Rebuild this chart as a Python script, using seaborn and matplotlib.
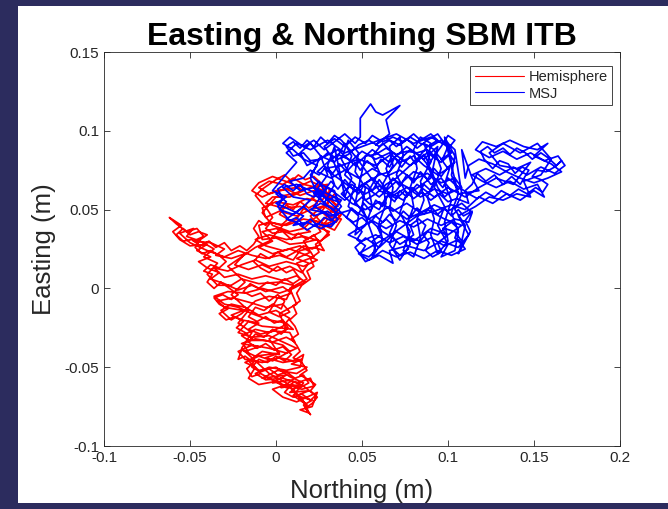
import seaborn as sns
import matplotlib.pyplot as plt
import pandas as pd
from matplotlib.patches import Rectangle

# Track points as (northing, easting) in metres
hemi_up = [
    (0.020, -0.080), (0.016, -0.074), (0.021, -0.071), (0.012, -0.068), (0.019, -0.065), (0.008, -0.066),
    (0.014, -0.061), (0.003, -0.063), (0.010, -0.058), (-0.002, -0.060), (0.006, -0.055), (-0.008, -0.057),
    (0.001, -0.052), (0.012, -0.054), (0.018, -0.050), (0.009, -0.048), (0.015, -0.045), (0.004, -0.047),
    (-0.006, -0.044), (0.002, -0.041), (-0.012, -0.043), (-0.018, -0.040), (-0.010, -0.037), (-0.020, -0.035),
    (-0.012, -0.032), (-0.002, -0.034), (0.006, -0.031), (0.011, -0.034), (0.008, -0.028), (-0.001, -0.027),
    (-0.009, -0.029), (-0.016, -0.026), (-0.010, -0.022), (-0.020, -0.020), (-0.026, -0.017), (-0.019, -0.014),
    (-0.030, -0.012), (-0.034, -0.008), (-0.025, -0.006), (-0.015, -0.009), (-0.006, -0.012), (0.004, -0.010),
    (0.008, -0.015), (0.002, -0.018), (-0.004, -0.015), (0.001, -0.006), (0.009, -0.003), (0.004, 0.001),
    (-0.006, -0.002), (-0.014, 0.002), (-0.022, -0.001), (-0.030, 0.003), (-0.038, 0.006), (-0.033, 0.010),
    (-0.040, 0.013), (-0.045, 0.017), (-0.038, 0.020), (-0.046, 0.024), (-0.040, 0.028), (-0.050, 0.027),
    (-0.056, 0.031), (-0.060, 0.036), (-0.055, 0.040), (-0.062, 0.045), (-0.058, 0.041), (-0.052, 0.036),
    (-0.046, 0.038), (-0.042, 0.033), (-0.048, 0.030), (-0.038, 0.029), (-0.030, 0.025), (-0.035, 0.021),
    (-0.026, 0.019), (-0.018, 0.022), (-0.024, 0.015), (-0.016, 0.012), (-0.008, 0.015), (0.000, 0.011),
    (0.008, 0.014), (0.015, 0.010), (0.019, 0.016), (0.012, 0.019), (0.020, 0.023), (0.014, 0.027),
    (0.004, 0.024), (-0.006, 0.027), (-0.012, 0.031), (-0.004, 0.034), (0.006, 0.031), (0.016, 0.033),
    (0.026, 0.030), (0.031, 0.036), (0.024, 0.039), (0.034, 0.043), (0.028, 0.047), (0.036, 0.050),
    (0.030, 0.053), (0.020, 0.050), (0.012, 0.046), (0.002, 0.049), (-0.006, 0.045), (-0.008, 0.051),
    (0.000, 0.055), (0.010, 0.053), (0.018, 0.057), (0.026, 0.055), (0.030, 0.060), (0.022, 0.062),
    (0.014, 0.059), (0.006, 0.063), (-0.004, 0.060), (-0.010, 0.064), (-0.004, 0.068), (0.004, 0.066),
    (0.010, 0.070), (0.016, 0.066), (0.024, 0.064),
]
hemi_down = [
    (0.033, 0.058), (0.028, 0.052), (0.037, 0.046), (0.032, 0.040), (0.022, 0.043), (0.014, 0.040),
    (0.020, 0.036), (0.010, 0.034), (0.000, 0.038), (-0.008, 0.036), (-0.002, 0.030), (-0.010, 0.026),
    (-0.002, 0.022), (0.008, 0.025), (0.018, 0.021), (0.024, 0.018), (0.016, 0.014), (0.006, 0.017),
    (-0.004, 0.014), (-0.012, 0.018), (-0.020, 0.015), (-0.028, 0.011), (-0.036, 0.013), (-0.030, 0.007),
    (-0.022, 0.009), (-0.014, 0.006), (-0.006, 0.008), (0.004, 0.005), (0.012, 0.008), (0.017, 0.004),
    (0.010, 0.000), (0.002, -0.003), (-0.008, 0.000), (-0.018, -0.003), (-0.028, -0.002), (-0.036, -0.005),
    (-0.030, -0.010), (-0.022, -0.012), (-0.014, -0.016), (-0.004, -0.020), (0.006, -0.022), (0.010, -0.026),
    (0.002, -0.025), (-0.008, -0.024), (-0.016, -0.021), (-0.022, -0.028), (-0.014, -0.031), (-0.004, -0.030),
    (0.004, -0.034), (0.012, -0.038), (0.006, -0.041), (-0.004, -0.038), (-0.014, -0.036), (-0.022, -0.040),
    (-0.018, -0.045), (-0.008, -0.047), (0.002, -0.044), (0.010, -0.046), (0.016, -0.042), (0.014, -0.050),
    (0.006, -0.052), (-0.004, -0.050), (-0.012, -0.054), (-0.006, -0.058), (0.004, -0.057), (0.012, -0.060),
    (0.020, -0.057), (0.022, -0.062), (0.015, -0.064), (0.006, -0.061), (-0.002, -0.064), (0.004, -0.069),
    (0.012, -0.072), (0.018, -0.069), (0.024, -0.066), (0.021, -0.075), (0.014, -0.077), (0.019, -0.079),
]
hemi_up2 = [
    (0.017, -0.073), (0.010, -0.064), (0.000, -0.059), (-0.010, -0.061), (-0.016, -0.057), (-0.012, -0.050),
    (-0.018, -0.047), (-0.010, -0.043), (-0.002, -0.046), (0.008, -0.040), (0.004, -0.036), (-0.006, -0.033),
    (-0.016, -0.033), (-0.020, -0.030), (-0.012, -0.026), (-0.004, -0.028), (0.004, -0.024), (0.008, -0.019),
    (0.000, -0.014), (-0.010, -0.017), (-0.018, -0.012), (-0.026, -0.010), (-0.032, -0.014), (-0.026, -0.020),
    (-0.020, -0.016), (-0.012, -0.008), (-0.004, -0.005), (0.006, -0.007), (0.010, 0.002), (0.002, 0.004),
    (-0.010, 0.003), (-0.020, 0.006), (-0.026, 0.002), (-0.034, 0.002), (-0.040, 0.009), (-0.034, 0.016),
    (-0.042, 0.020), (-0.036, 0.025), (-0.044, 0.030), (-0.052, 0.033), (-0.048, 0.038), (-0.056, 0.035),
    (-0.050, 0.029), (-0.040, 0.024), (-0.030, 0.020), (-0.022, 0.024), (-0.014, 0.021), (-0.006, 0.019),
    (0.002, 0.021), (0.010, 0.018), (0.014, 0.024), (0.022, 0.026), (0.028, 0.024), (0.024, 0.031),
    (0.016, 0.029), (0.008, 0.028), (0.000, 0.032), (-0.008, 0.031), (-0.010, 0.040), (-0.004, 0.042),
    (0.006, 0.040), (0.016, 0.044), (0.026, 0.042), (0.030, 0.046), (0.038, 0.044), (0.034, 0.037),
    (0.028, 0.040), (0.022, 0.047), (0.014, 0.052), (0.004, 0.051), (-0.006, 0.054), (-0.002, 0.058),
    (0.008, 0.058), (0.016, 0.062), (0.008, 0.067), (-0.002, 0.071), (-0.010, 0.067), (-0.014, 0.062),
    (-0.008, 0.058), (0.000, 0.062), (0.012, 0.064), (0.020, 0.068), (0.028, 0.064), (0.032, 0.056),
    (0.036, 0.052),
]
hemi_down2 = [
    (0.030, 0.058), (0.026, 0.061), (0.021, 0.058), (0.024, 0.054), (0.019, 0.051), (0.014, 0.055),
    (0.010, 0.050), (0.006, 0.053), (0.002, 0.047), (0.007, 0.044), (0.003, 0.040), (-0.003, 0.042),
    (-0.006, 0.038), (-0.002, 0.035), (0.004, 0.036), (0.009, 0.031), (0.013, 0.035), (0.018, 0.031),
    (0.022, 0.034), (0.026, 0.028), (0.021, 0.025), (0.016, 0.027), (0.011, 0.023), (0.006, 0.020),
    (0.001, 0.023), (-0.004, 0.019), (-0.009, 0.022), (-0.013, 0.017), (-0.009, 0.013), (-0.004, 0.010),
    (0.001, 0.014), (0.006, 0.010), (0.010, 0.012), (0.014, 0.006), (0.010, 0.003), (0.005, 0.006),
    (0.000, 0.002), (-0.005, 0.004), (-0.010, 0.000), (-0.015, 0.003), (-0.019, -0.002), (-0.014, -0.005),
    (-0.009, -0.003), (-0.004, -0.008), (0.001, -0.004), (0.005, -0.008), (0.003, -0.013), (-0.002, -0.010),
    (-0.007, -0.014), (-0.012, -0.012), (-0.016, -0.018), (-0.011, -0.021), (-0.006, -0.018), (-0.001, -0.022),
    (0.004, -0.020), (0.007, -0.025), (0.003, -0.029), (-0.002, -0.026), (-0.007, -0.031), (-0.012, -0.029),
    (-0.016, -0.034), (-0.011, -0.038), (-0.006, -0.035), (-0.001, -0.039), (0.004, -0.037), (0.009, -0.042),
    (0.005, -0.046), (0.000, -0.043), (-0.005, -0.047), (-0.010, -0.045), (-0.014, -0.050), (-0.009, -0.053),
    (-0.004, -0.051), (0.001, -0.055), (0.006, -0.053), (0.011, -0.057), (0.016, -0.055), (0.019, -0.060),
    (0.014, -0.063), (0.009, -0.061), (0.005, -0.066), (0.010, -0.069), (0.015, -0.067), (0.020, -0.071),
    (0.023, -0.068),
]
hemi_left = [
    (0.016, -0.062), (0.011, -0.059), (0.006, -0.063), (0.001, -0.060), (-0.004, -0.057), (-0.009, -0.054),
    (-0.014, -0.056), (-0.017, -0.051), (-0.013, -0.047), (-0.018, -0.043), (-0.022, -0.045), (-0.020, -0.039),
    (-0.016, -0.041), (-0.019, -0.035), (-0.014, -0.032), (-0.018, -0.028), (-0.023, -0.025), (-0.019, -0.021),
    (-0.024, -0.018), (-0.029, -0.020), (-0.033, -0.016), (-0.028, -0.013), (-0.033, -0.010), (-0.036, -0.006),
    (-0.031, -0.004), (-0.026, -0.007), (-0.022, -0.004), (-0.027, 0.000), (-0.032, 0.004), (-0.036, 0.000),
    (-0.040, 0.004), (-0.037, 0.009), (-0.042, 0.011), (-0.038, 0.015), (-0.033, 0.013), (-0.029, 0.017),
    (-0.033, 0.021), (-0.038, 0.024), (-0.043, 0.022), (-0.047, 0.026), (-0.044, 0.031), (-0.040, 0.034),
    (-0.045, 0.036), (-0.050, 0.034), (-0.054, 0.038), (-0.058, 0.034), (-0.054, 0.030), (-0.049, 0.031),
    (-0.044, 0.027), (-0.039, 0.030), (-0.035, 0.026), (-0.030, 0.029), (-0.026, 0.024), (-0.021, 0.027),
    (-0.017, 0.024), (-0.013, 0.028), (-0.010, 0.033), (-0.013, 0.038), (-0.010, 0.043), (-0.006, 0.040),
    (-0.002, 0.045), (-0.005, 0.050), (-0.009, 0.055), (-0.012, 0.059), (-0.008, 0.063), (-0.004, 0.066),
    (0.000, 0.069), (0.005, 0.072), (0.009, 0.068), (0.013, 0.072), (0.017, 0.069), (0.022, 0.071),
    (0.026, 0.067), (0.031, 0.063),
]
hemi_diag = [
    (0.030, 0.054), (0.020, 0.046), (0.026, 0.036), (0.016, 0.030), (0.022, 0.020), (0.012, 0.016),
    (0.018, 0.006), (0.008, 0.000), (0.012, -0.010), (0.002, -0.016), (0.006, -0.026), (-0.004, -0.032),
    (0.002, -0.042), (-0.008, -0.040), (-0.016, -0.046), (-0.010, -0.052), (0.000, -0.050), (0.008, -0.056),
    (0.016, -0.060), (0.010, -0.068), (0.018, -0.074), (0.014, -0.070), (0.006, -0.060), (-0.004, -0.054),
    (-0.012, -0.046), (-0.020, -0.038), (-0.014, -0.028), (-0.022, -0.022), (-0.016, -0.014), (-0.026, -0.004),
    (-0.018, 0.004), (-0.028, 0.014), (-0.020, 0.020), (-0.012, 0.026), (-0.004, 0.030), (0.004, 0.040),
    (0.012, 0.044), (0.018, 0.054), (0.024, 0.060), (0.030, 0.066), (0.020, 0.064), (0.010, 0.060),
    (0.000, 0.058), (-0.008, 0.048), (-0.002, 0.040), (0.008, 0.036), (0.016, 0.038),
]
hemi_right = [
    (0.026, 0.048), (0.034, 0.060), (0.037, 0.055), (0.033, 0.050), (0.038, 0.047), (0.035, 0.042),
    (0.030, 0.044), (0.027, 0.039), (0.031, 0.034), (0.027, 0.031), (0.023, 0.028), (0.025, 0.023),
    (0.020, 0.019), (0.022, 0.014), (0.018, 0.011), (0.020, 0.006), (0.015, 0.002), (0.012, -0.003),
    (0.014, -0.008), (0.010, -0.011), (0.012, -0.016), (0.008, -0.020), (0.011, -0.024), (0.013, -0.029),
    (0.009, -0.032), (0.012, -0.036), (0.014, -0.040), (0.010, -0.044), (0.015, -0.047), (0.018, -0.052),
    (0.014, -0.055), (0.019, -0.058), (0.023, -0.061), (0.020, -0.065), (0.024, -0.069), (0.021, -0.073),
    (0.017, -0.076), (0.020, -0.080),
]

msj_rows = [
    (0.000, 0.060), (0.006, 0.055), (0.002, 0.050), (0.010, 0.047), (0.016, 0.052), (0.022, 0.046),
    (0.030, 0.049), (0.036, 0.044), (0.032, 0.039), (0.024, 0.041), (0.018, 0.037), (0.012, 0.042),
    (0.006, 0.044), (0.014, 0.050), (0.020, 0.056), (0.010, 0.058), (0.004, 0.064), (0.012, 0.066),
    (0.020, 0.062), (0.028, 0.058), (0.036, 0.055), (0.034, 0.062), (0.026, 0.066), (0.020, 0.072),
    (0.024, 0.078), (0.016, 0.082), (0.010, 0.088), (0.004, 0.092), (0.008, 0.096), (0.016, 0.090),
    (0.022, 0.094), (0.028, 0.088), (0.034, 0.093), (0.040, 0.098), (0.046, 0.092), (0.049, 0.096),
    (0.049, 0.108), (0.055, 0.117), (0.058, 0.112), (0.062, 0.110), (0.072, 0.116), (0.064, 0.107),
    (0.066, 0.098), (0.058, 0.091), (0.064, 0.096), (0.070, 0.090), (0.076, 0.095), (0.082, 0.089),
    (0.088, 0.094), (0.094, 0.098), (0.098, 0.092), (0.102, 0.086), (0.096, 0.082), (0.100, 0.076),
    (0.094, 0.072), (0.086, 0.078), (0.080, 0.084), (0.072, 0.080), (0.066, 0.086), (0.058, 0.082),
    (0.050, 0.087), (0.044, 0.081), (0.036, 0.085), (0.030, 0.080), (0.024, 0.074), (0.032, 0.070),
    (0.040, 0.075), (0.048, 0.070), (0.056, 0.076), (0.064, 0.071), (0.072, 0.075), (0.080, 0.069),
    (0.088, 0.073), (0.096, 0.067), (0.104, 0.070), (0.108, 0.064), (0.100, 0.060), (0.092, 0.063),
    (0.084, 0.058), (0.076, 0.064), (0.068, 0.059), (0.060, 0.065), (0.052, 0.060), (0.044, 0.066),
    (0.038, 0.060), (0.044, 0.054), (0.052, 0.050), (0.060, 0.055), (0.068, 0.049), (0.076, 0.054),
    (0.084, 0.048), (0.092, 0.053), (0.100, 0.049), (0.108, 0.054), (0.114, 0.048), (0.112, 0.042),
    (0.104, 0.044), (0.096, 0.040), (0.088, 0.044), (0.080, 0.039), (0.072, 0.043), (0.064, 0.038),
    (0.056, 0.043), (0.048, 0.038), (0.042, 0.034), (0.050, 0.030), (0.058, 0.034), (0.066, 0.029),
    (0.074, 0.033), (0.082, 0.028), (0.090, 0.032), (0.098, 0.027), (0.106, 0.031), (0.110, 0.025),
    (0.102, 0.021), (0.094, 0.024), (0.086, 0.019), (0.078, 0.023), (0.070, 0.020), (0.062, 0.024),
    (0.054, 0.018), (0.048, 0.022), (0.056, 0.027), (0.064, 0.032), (0.072, 0.038), (0.082, 0.046),
    (0.092, 0.049), (0.102, 0.053), (0.110, 0.050),
]
msj_lobe = [
    (0.118, 0.058), (0.126, 0.054), (0.134, 0.060), (0.142, 0.056), (0.150, 0.062), (0.156, 0.058),
    (0.152, 0.066), (0.144, 0.063), (0.136, 0.068), (0.128, 0.064), (0.120, 0.068), (0.114, 0.072),
    (0.122, 0.076), (0.130, 0.072), (0.138, 0.077), (0.146, 0.072), (0.154, 0.077), (0.162, 0.073),
    (0.168, 0.078), (0.164, 0.084), (0.156, 0.081), (0.148, 0.086), (0.140, 0.082), (0.132, 0.087),
    (0.124, 0.083), (0.116, 0.088), (0.120, 0.093), (0.128, 0.090), (0.136, 0.094), (0.144, 0.090),
    (0.152, 0.088), (0.158, 0.092), (0.150, 0.084), (0.160, 0.079), (0.166, 0.074), (0.158, 0.070),
    (0.150, 0.067), (0.142, 0.070), (0.134, 0.074), (0.126, 0.079), (0.118, 0.082), (0.112, 0.078),
    (0.110, 0.070), (0.108, 0.088), (0.114, 0.070), (0.118, 0.062), (0.106, 0.060),
]
msj_cols = [
    (0.098, 0.096), (0.104, 0.084), (0.102, 0.072), (0.106, 0.060), (0.102, 0.048), (0.106, 0.036),
    (0.104, 0.024), (0.096, 0.020), (0.100, 0.028), (0.094, 0.040), (0.098, 0.052), (0.092, 0.064),
    (0.096, 0.076), (0.092, 0.088), (0.086, 0.092), (0.090, 0.080), (0.084, 0.068), (0.086, 0.056),
    (0.082, 0.044), (0.084, 0.032), (0.080, 0.020), (0.074, 0.024), (0.078, 0.036), (0.072, 0.048),
    (0.076, 0.060), (0.070, 0.072), (0.074, 0.084), (0.072, 0.096), (0.066, 0.090), (0.068, 0.078),
    (0.062, 0.066), (0.064, 0.054), (0.060, 0.042), (0.062, 0.030), (0.056, 0.020), (0.058, 0.028),
    (0.054, 0.040), (0.050, 0.052), (0.052, 0.064), (0.046, 0.074), (0.048, 0.086), (0.042, 0.094),
    (0.038, 0.082), (0.044, 0.070), (0.040, 0.058),
]
msj_cols_left = [
    (0.034, 0.090), (0.030, 0.078), (0.034, 0.066), (0.028, 0.054), (0.024, 0.060), (0.020, 0.070),
    (0.026, 0.084), (0.020, 0.092), (0.014, 0.086), (0.018, 0.078),
]
msj_core = [
    (0.036, 0.088), (0.046, 0.078), (0.056, 0.088), (0.066, 0.080), (0.076, 0.090), (0.086, 0.082),
    (0.094, 0.090), (0.090, 0.070), (0.080, 0.062), (0.070, 0.068), (0.060, 0.058), (0.050, 0.066),
    (0.040, 0.056), (0.030, 0.064), (0.022, 0.052), (0.032, 0.046), (0.044, 0.050), (0.054, 0.044),
    (0.066, 0.052), (0.076, 0.044), (0.088, 0.050), (0.098, 0.044), (0.108, 0.040), (0.100, 0.034),
    (0.090, 0.038), (0.080, 0.030), (0.070, 0.036), (0.060, 0.026), (0.052, 0.032), (0.046, 0.026),
    (0.052, 0.017), (0.060, 0.021), (0.068, 0.016), (0.066, 0.024), (0.076, 0.027), (0.086, 0.024),
    (0.096, 0.030), (0.106, 0.026), (0.112, 0.034), (0.106, 0.046), (0.116, 0.052), (0.124, 0.058),
    (0.132, 0.056), (0.140, 0.060), (0.148, 0.058), (0.144, 0.068), (0.154, 0.072), (0.160, 0.082),
    (0.152, 0.092), (0.142, 0.086), (0.132, 0.092), (0.124, 0.086), (0.130, 0.078), (0.140, 0.076),
    (0.148, 0.080), (0.138, 0.066), (0.128, 0.070), (0.118, 0.064), (0.110, 0.058), (0.100, 0.064),
    (0.092, 0.058), (0.082, 0.066), (0.074, 0.056), (0.064, 0.062), (0.056, 0.070), (0.046, 0.062),
    (0.036, 0.070), (0.028, 0.076), (0.038, 0.078), (0.048, 0.082), (0.058, 0.078), (0.068, 0.086),
    (0.078, 0.078), (0.088, 0.086), (0.096, 0.080), (0.100, 0.090), (0.090, 0.096), (0.080, 0.092),
    (0.070, 0.098), (0.060, 0.094), (0.050, 0.090), (0.040, 0.086), (0.030, 0.094), (0.020, 0.088),
    (0.012, 0.092), (0.006, 0.086), (0.012, 0.080),
]
msj_overlap = [
    (0.004, 0.070), (-0.002, 0.062), (0.006, 0.058), (0.000, 0.054), (0.008, 0.050), (0.016, 0.046),
    (0.010, 0.040), (0.018, 0.042), (0.026, 0.038), (0.034, 0.042), (0.028, 0.048), (0.020, 0.050),
    (0.026, 0.054), (0.034, 0.050), (0.038, 0.056), (0.030, 0.060), (0.022, 0.064), (0.014, 0.062),
    (0.008, 0.068), (0.016, 0.070),
]
msj_band = [
    (0.020, 0.075), (0.025, 0.072), (0.029, 0.077), (0.033, 0.073), (0.037, 0.079), (0.041, 0.074),
    (0.046, 0.080), (0.049, 0.075), (0.053, 0.081), (0.058, 0.076), (0.061, 0.082), (0.066, 0.077),
    (0.069, 0.083), (0.073, 0.077), (0.078, 0.084), (0.081, 0.079), (0.086, 0.085), (0.089, 0.079),
    (0.093, 0.086), (0.097, 0.081), (0.101, 0.085), (0.104, 0.080), (0.100, 0.077), (0.096, 0.071),
    (0.092, 0.076), (0.088, 0.069), (0.084, 0.074), (0.080, 0.067), (0.076, 0.072), (0.072, 0.065),
    (0.068, 0.070), (0.064, 0.063), (0.060, 0.069), (0.056, 0.062), (0.052, 0.067), (0.048, 0.060),
    (0.044, 0.064), (0.040, 0.069), (0.036, 0.063), (0.032, 0.068), (0.028, 0.062), (0.025, 0.068),
    (0.022, 0.064),
]
msj_low = [
    (0.046, 0.040), (0.050, 0.036), (0.047, 0.031), (0.052, 0.027), (0.049, 0.022), (0.054, 0.020),
    (0.058, 0.024), (0.056, 0.030), (0.061, 0.034), (0.059, 0.039), (0.064, 0.044), (0.068, 0.040),
    (0.066, 0.035), (0.070, 0.030), (0.068, 0.025), (0.072, 0.021), (0.077, 0.025), (0.075, 0.030),
    (0.080, 0.034), (0.078, 0.040), (0.083, 0.044), (0.087, 0.040), (0.085, 0.035), (0.089, 0.029),
    (0.087, 0.024), (0.091, 0.020), (0.096, 0.023), (0.094, 0.029), (0.099, 0.033), (0.097, 0.038),
    (0.102, 0.042), (0.106, 0.038), (0.104, 0.032), (0.108, 0.028), (0.106, 0.022), (0.110, 0.030),
    (0.113, 0.036), (0.110, 0.043), (0.114, 0.049),
]
msj_mid = [
    (0.109, 0.046), (0.106, 0.050), (0.102, 0.046), (0.098, 0.051), (0.094, 0.047), (0.090, 0.052),
    (0.086, 0.047), (0.082, 0.051), (0.078, 0.045), (0.074, 0.049), (0.070, 0.043), (0.066, 0.047),
    (0.062, 0.042), (0.058, 0.046), (0.054, 0.041), (0.050, 0.045), (0.045, 0.042), (0.041, 0.045),
    (0.044, 0.051), (0.048, 0.047), (0.051, 0.054), (0.055, 0.049), (0.058, 0.056), (0.062, 0.052),
    (0.065, 0.059), (0.069, 0.055), (0.072, 0.062), (0.076, 0.058), (0.079, 0.064), (0.083, 0.060),
    (0.086, 0.066), (0.090, 0.062), (0.093, 0.069), (0.097, 0.064), (0.100, 0.070), (0.104, 0.066),
]
msj_lobe2 = [
    (0.112, 0.060), (0.117, 0.057), (0.122, 0.061), (0.127, 0.058), (0.131, 0.062), (0.136, 0.059),
    (0.141, 0.063), (0.146, 0.060), (0.151, 0.064), (0.155, 0.061), (0.158, 0.066), (0.154, 0.069),
    (0.149, 0.071), (0.152, 0.075), (0.157, 0.074), (0.162, 0.077), (0.166, 0.081), (0.163, 0.078),
    (0.158, 0.083), (0.154, 0.086), (0.149, 0.082), (0.145, 0.086), (0.140, 0.089), (0.136, 0.085),
    (0.132, 0.089), (0.127, 0.086), (0.123, 0.090), (0.119, 0.087), (0.121, 0.082), (0.126, 0.076),
    (0.130, 0.081), (0.135, 0.079), (0.139, 0.073), (0.143, 0.077), (0.147, 0.075), (0.142, 0.066),
    (0.137, 0.071), (0.132, 0.066), (0.127, 0.072), (0.122, 0.068), (0.117, 0.073), (0.114, 0.066),
    (0.110, 0.062),
]
msj_top = [
    (0.112, 0.054), (0.105, 0.057), (0.100, 0.055), (0.095, 0.060), (0.090, 0.056), (0.085, 0.061),
    (0.080, 0.057), (0.075, 0.062), (0.070, 0.057), (0.065, 0.060), (0.060, 0.062), (0.058, 0.066),
    (0.054, 0.072), (0.050, 0.078), (0.046, 0.084), (0.042, 0.089), (0.038, 0.094), (0.034, 0.097),
    (0.030, 0.092), (0.026, 0.096), (0.022, 0.090), (0.018, 0.094), (0.014, 0.089), (0.010, 0.093),
    (0.006, 0.090), (0.010, 0.084), (0.016, 0.086), (0.020, 0.081), (0.026, 0.082), (0.030, 0.086),
    (0.036, 0.082), (0.042, 0.085), (0.048, 0.091), (0.054, 0.094), (0.060, 0.090), (0.066, 0.094),
    (0.072, 0.091), (0.078, 0.096), (0.084, 0.092), (0.090, 0.090), (0.096, 0.094), (0.101, 0.090),
    (0.104, 0.094), (0.100, 0.097), (0.096, 0.090), (0.092, 0.084), (0.088, 0.088), (0.082, 0.086),
    (0.076, 0.087), (0.070, 0.085), (0.064, 0.089), (0.058, 0.085), (0.052, 0.084),
]
msj_loops = [
    (0.046, 0.054), (0.050, 0.058), (0.054, 0.054), (0.060, 0.050), (0.064, 0.058), (0.070, 0.062),
    (0.074, 0.068), (0.080, 0.074), (0.086, 0.072), (0.090, 0.066), (0.096, 0.070), (0.102, 0.062),
    (0.098, 0.058), (0.094, 0.064), (0.090, 0.076), (0.084, 0.084), (0.078, 0.088), (0.072, 0.082),
    (0.066, 0.074), (0.060, 0.072), (0.054, 0.068), (0.048, 0.064), (0.052, 0.056), (0.058, 0.060),
    (0.064, 0.066), (0.070, 0.070), (0.076, 0.076), (0.082, 0.082), (0.088, 0.090), (0.094, 0.094),
    (0.090, 0.098), (0.084, 0.094), (0.080, 0.098), (0.074, 0.093), (0.068, 0.096), (0.062, 0.093),
    (0.056, 0.097), (0.052, 0.092), (0.046, 0.096), (0.040, 0.090), (0.034, 0.095), (0.028, 0.090),
    (0.032, 0.084), (0.036, 0.074), (0.040, 0.064), (0.044, 0.058), (0.048, 0.052), (0.052, 0.046),
    (0.058, 0.040), (0.062, 0.036), (0.068, 0.032), (0.072, 0.028), (0.078, 0.032), (0.084, 0.030),
    (0.088, 0.036), (0.094, 0.034), (0.098, 0.038), (0.104, 0.036),
]
msj_diag = [
    (0.108, 0.030), (0.110, 0.040), (0.104, 0.050), (0.108, 0.060), (0.106, 0.074), (0.104, 0.088),
    (0.100, 0.092), (0.102, 0.080), (0.098, 0.066), (0.102, 0.056), (0.098, 0.042), (0.100, 0.030),
    (0.094, 0.022), (0.090, 0.034), (0.092, 0.044), (0.088, 0.058), (0.092, 0.068), (0.088, 0.078),
    (0.090, 0.092), (0.084, 0.096), (0.080, 0.088), (0.082, 0.076), (0.078, 0.064), (0.080, 0.052),
    (0.076, 0.040), (0.078, 0.028), (0.072, 0.018), (0.066, 0.028), (0.070, 0.040), (0.066, 0.050),
    (0.068, 0.064), (0.064, 0.076), (0.068, 0.086), (0.062, 0.092), (0.056, 0.084), (0.060, 0.074),
    (0.054, 0.062), (0.056, 0.052), (0.052, 0.040), (0.046, 0.034), (0.048, 0.046), (0.042, 0.052),
    (0.046, 0.066), (0.040, 0.072), (0.044, 0.084), (0.040, 0.092), (0.034, 0.080), (0.026, 0.084),
    (0.030, 0.072), (0.022, 0.060),
]
msj_left = [
    (0.036, 0.047), (0.032, 0.043), (0.028, 0.045), (0.024, 0.040), (0.020, 0.044), (0.016, 0.040),
    (0.012, 0.045), (0.008, 0.043), (0.004, 0.048), (0.001, 0.052), (0.004, 0.057), (0.001, 0.063),
    (0.005, 0.066), (0.010, 0.062), (0.014, 0.066), (0.018, 0.060), (0.022, 0.058), (0.026, 0.062),
    (0.030, 0.056), (0.034, 0.058), (0.038, 0.052), (0.034, 0.047),
]

receivers = ["Hemisphere", "MSJ"]
colors = ["#ff0000", "#0000ff"]
x_ticks = [-0.1, -0.05, 0, 0.05, 0.1, 0.15, 0.2]
x_labels = ["-0.1", "-0.05", "0", "0.05", "0.1", "0.15", "0.2"]
y_ticks = [-0.1, -0.05, 0, 0.05, 0.1, 0.15]
y_labels = ["-0.1", "-0.05", "0", "0.05", "0.1", "0.15"]

hemi = hemi_up + hemi_down + hemi_up2 + hemi_down2 + hemi_left + hemi_diag + hemi_right
msj = (msj_rows + msj_lobe + msj_cols + msj_cols_left + msj_core + msj_overlap + msj_band
       + msj_low + msj_mid + msj_lobe2 + msj_top + msj_loops + msj_diag + msj_left)
frames = []
for name, pts in zip(receivers, [hemi, msj]):
    d = pd.DataFrame(pts, columns=["northing", "easting"])
    d["receiver"] = name
    frames.append(d)
df = pd.concat(frames, ignore_index=True)

sns.set_theme(style="white")
plt.rcParams["font.family"] = ["Liberation Sans", "DejaVu Sans"]
ink = "#262626"

fig = plt.figure(figsize=(6.68, 5.09), dpi=100, facecolor="#2c2c5e")
# white figure area inside the dark frame
fig.add_artist(Rectangle((18 / 668, 6 / 509), 1, 497 / 509, transform=fig.transFigure,
                         facecolor="white", edgecolor="none", zorder=-10))
ax = fig.add_axes([104 / 668, 63 / 509, 516 / 668, 394 / 509])

sns.lineplot(data=df, x="northing", y="easting", hue="receiver", palette=colors,
             sort=False, estimator=None, units="receiver", linewidth=1.25, ax=ax)

ax.set_xlim(-0.1, 0.2)
ax.set_ylim(-0.1, 0.15)
ax.set_xticks(x_ticks)
ax.set_xticklabels(x_labels)
ax.set_yticks(y_ticks)
ax.set_yticklabels(y_labels)
ax.tick_params(direction="in", length=4, width=0.6, colors=ink, labelsize=11,
               top=True, right=True, bottom=True, left=True)
for s in ax.spines.values():
    s.set_visible(True)
    s.set_color(ink)
    s.set_linewidth(0.6)

ax.set_title("Easting & Northing SBM ITB", fontsize=23, fontweight="bold", color="black", pad=5)
ax.set_xlabel("Northing (m)", fontsize=18.5, color=ink, labelpad=10)
ax.set_ylabel("Easting (m)", fontsize=18.5, color=ink, labelpad=6)

handles, labels = ax.get_legend_handles_labels()
leg = ax.legend(handles, labels, loc="upper right", bbox_to_anchor=(1 - 8 / 516, 1 - 14 / 394),
                borderaxespad=0, fontsize=10.5, handlelength=3.4, handletextpad=0.3,
                labelspacing=0.15, borderpad=0.3, fancybox=False, framealpha=1, edgecolor=ink)
leg.get_frame().set_linewidth(0.6)
for t in leg.get_texts():
    t.set_color(ink)
for h in leg.get_lines():
    h.set_linewidth(0.8)

fig.savefig("out.png", dpi=100, facecolor=fig.get_facecolor())
